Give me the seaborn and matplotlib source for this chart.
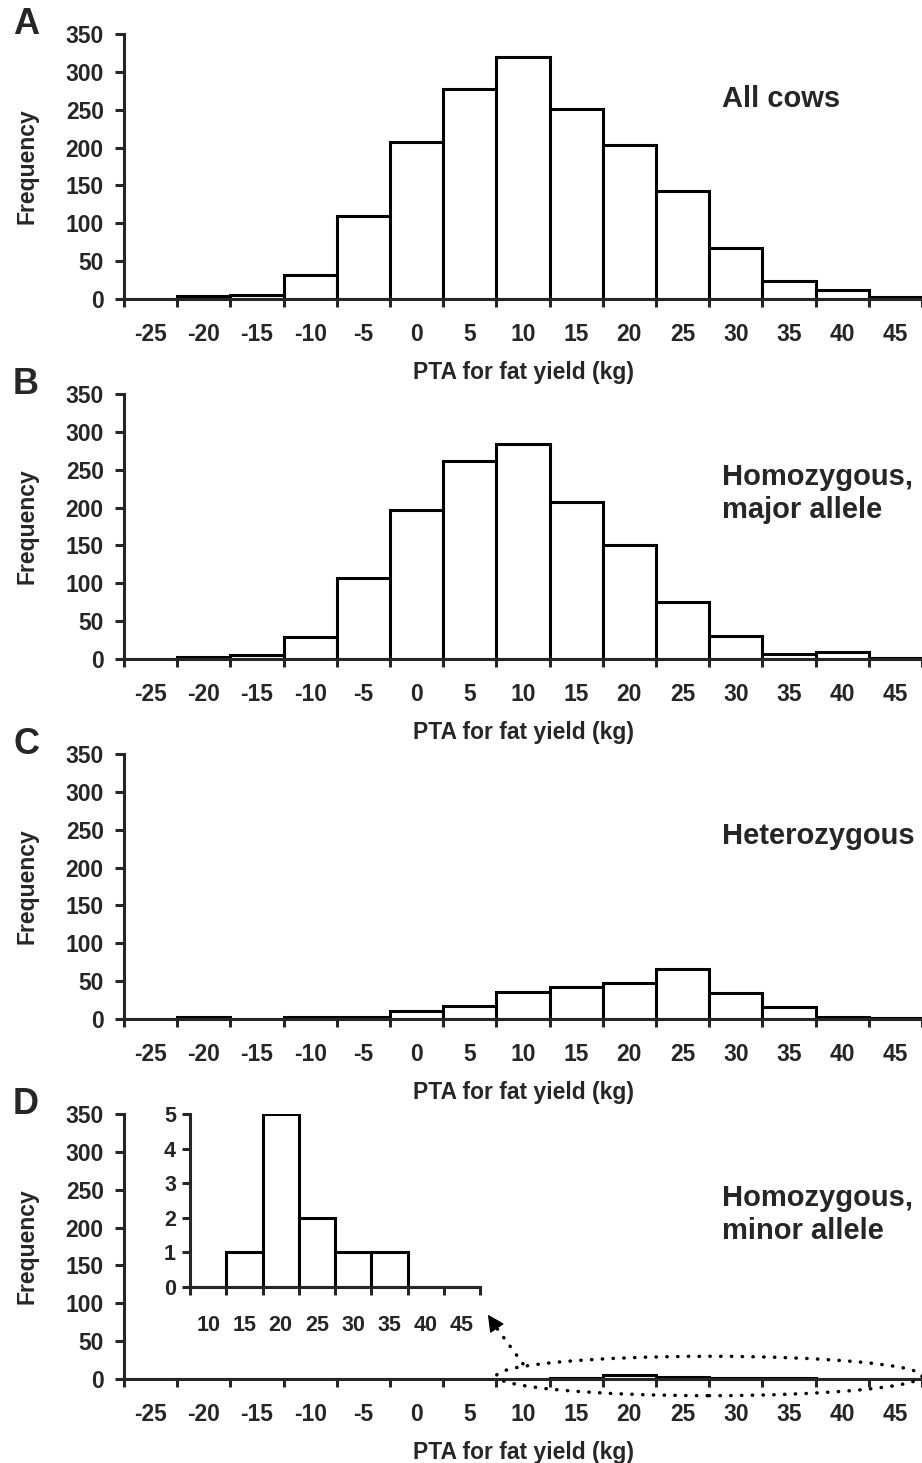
#!/usr/bin/env python3
"""
PTA for fat yield histograms by genotype (panels A-D)
"""

import numpy as np
import matplotlib
matplotlib.use('Agg')
import matplotlib.pyplot as plt
from matplotlib.patches import Ellipse
import seaborn as sns

sns.set_style("ticks")
plt.rcParams['font.family'] = ['Liberation Sans', 'DejaVu Sans']
plt.rcParams['font.weight'] = 'bold'

# bin centres (kg) and counts
bin_centers = [-25, -20, -15, -10, -5, 0, 5, 10, 15, 20, 25, 30, 35, 40, 45]
all_cows = [0, 4, 5, 32, 109, 207, 278, 320, 251, 204, 143, 67, 24, 12, 2]
hom_major = [0, 2, 5, 29, 107, 197, 261, 284, 208, 151, 75, 31, 7, 9, 1]
heterozygous = [0, 2, 0, 3, 2, 10, 17, 36, 42, 48, 66, 35, 16, 3, 1]
hom_minor = [0, 0, 0, 0, 0, 0, 0, 0, 1, 5, 2, 1, 1, 0, 0]

y_ticks = [0, 50, 100, 150, 200, 250, 300, 350]
inset_y_ticks = [0, 1, 2, 3, 4, 5]

# letter, counts, group label, label height (axes fraction)
panels = [
    ('A', all_cows, 'All cows', 0.755),
    ('B', hom_major, 'Homozygous,\nmajor allele', 0.625),
    ('C', heterozygous, 'Heterozygous', 0.69),
    ('D', hom_minor, 'Homozygous,\nminor allele', 0.62),
]

W, H = 922, 1463
LW = 2.2
TICK_FS = 16.5


def px_axes(left, top, right, bottom):
    """axes rect from pixel box"""
    return [left / W, 1 - bottom / H, (right - left) / W, (bottom - top) / H]


def draw_hist(ax, centers, counts, ymax, yticks, fs, xpad, ypad, ylen):
    centers = np.asarray(centers, dtype=float)
    edges = list(np.append(centers - 2.5, centers[-1] + 2.5))
    # one value per animal, binned again by seaborn
    values = np.repeat(centers, counts)
    sns.histplot(x=values, bins=edges, ax=ax, stat='count',
                 color='white', edgecolor='black', linewidth=LW, alpha=1)
    ax.set_xlim(edges[0], edges[-1])
    ax.set_ylim(0, ymax)
    ax.set_yticks(yticks)
    ax.set_xticks(edges)
    ax.set_xticklabels([])
    ax.set_xticks(centers, minor=True)
    ax.set_xticklabels([f'{c:g}' for c in centers], minor=True)
    ax.tick_params(axis='x', which='major', length=6, width=LW, direction='out')
    ax.tick_params(axis='x', which='minor', length=0, pad=xpad, labelsize=fs)
    ax.tick_params(axis='y', length=ylen, width=LW, pad=ypad, labelsize=fs)
    for lab in ax.get_xticklabels(minor=True) + ax.get_yticklabels():
        lab.set_fontweight('bold')
    sns.despine(ax=ax)
    for side in ['left', 'bottom']:
        ax.spines[side].set_linewidth(LW)
    ax.set_facecolor('none')


fig = plt.figure(figsize=(W / 100, H / 100), dpi=100)

axes = []
for i, (letter, counts, note, note_y) in enumerate(panels):
    top = 34 + 360 * i
    ax = fig.add_axes(px_axes(124, top, 922, top + 265))
    draw_hist(ax, bin_centers, counts, 350, y_ticks, TICK_FS, 17, 8, 6.5)

    ax.set_ylabel('Frequency', fontsize=TICK_FS, fontweight='bold')
    ax.yaxis.set_label_coords(-0.107, 0.5)
    ax.set_xlabel('PTA for fat yield (kg)', fontsize=TICK_FS, fontweight='bold')
    ax.xaxis.label.set_va('center')
    ax.xaxis.set_label_coords(0.5, -0.278)

    ax.text(0.749, note_y, note, transform=ax.transAxes,
            fontsize=21, fontweight='bold', ha='left', va='center', linespacing=1.2)
    fig.text(13 / W, 1 - (top - 9) / H, letter, fontsize=26, fontweight='bold',
             ha='left', va='center')
    axes.append(ax)

# inset for the minor-allele homozygotes (10 kg and up)
inset_centers = [c for c in bin_centers if c >= 10]
inset_counts = [n for c, n in zip(bin_centers, hom_minor) if c >= 10]
ins = fig.add_axes(px_axes(190, 1114, 480, 1287))
draw_hist(ins, inset_centers, inset_counts, 5, inset_y_ticks, 15.5, 20, 4, 6)
ins.set_xlabel('')
ins.set_ylabel('')

# dotted ellipse around the tail of panel D plus dotted arrow to the inset
axd = axes[3]
dots = (0, (0.1, 3.0))
ell = Ellipse((27.5, 4), 40, 52, fill=False, edgecolor='black', lw=2.5,
              linestyle=dots, clip_on=False, zorder=5)
ell.set_capstyle('round')
axd.add_patch(ell)
axd.annotate('', xy=(7.6, 66), xytext=(10.0, 20),
             arrowprops=dict(arrowstyle='-', lw=2.5, linestyle=dots,
                             color='black', shrinkA=0, shrinkB=0,
                             capstyle='round'),
             annotation_clip=False)
axd.annotate('', xy=(6.7, 85), xytext=(7.6, 66),
             arrowprops=dict(arrowstyle='-|>', lw=1, color='black',
                             mutation_scale=26, shrinkA=0, shrinkB=0),
             annotation_clip=False)

plt.savefig('out.png', dpi=100)
plt.close()
